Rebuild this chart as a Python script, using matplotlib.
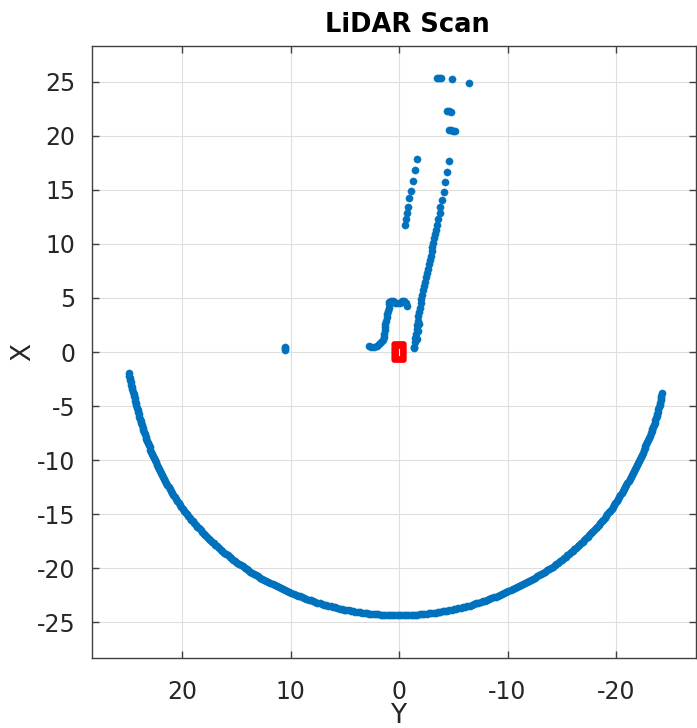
import numpy as np
import matplotlib
matplotlib.use("Agg")
import matplotlib.pyplot as plt
from matplotlib.patches import FancyBboxPatch

plt.rcParams["axes.unicode_minus"] = False

# ---- data ----
# far wall arc: scan starts at 94.5 deg (from +X toward +Y), 0.5 deg steps; ranges in m
arc_start_deg = 94.5
arc_step_deg = 0.5
arc_range = [
    24.98, 24.95, 24.92, 24.90, 24.88, 24.86, 24.84, 24.82, 24.80, 24.78,
    24.76, 24.75, 24.73, 24.72, 24.71, 24.70, 24.69, 24.68, 24.67, 24.67,
    24.66, 24.66, 24.65, 24.65, 24.64, 24.64, 24.64, 24.64, 24.64, 24.63,
    24.63, 24.63, 24.63, 24.63, 24.63, 24.63, 24.63, 24.63, 24.63, 24.63,
    24.63, 24.63, 24.63, 24.63, 24.64, 24.64, 24.64, 24.64, 24.64, 24.64,
    24.64, 24.65, 24.65, 24.65, 24.65, 24.65, 24.65, 24.65, 24.65, 24.65,
    24.65, 24.65, 24.65, 24.65, 24.65, 24.65, 24.65, 24.64, 24.64, 24.64,
    24.64, 24.63, 24.63, 24.63, 24.63, 24.62, 24.62, 24.62, 24.62, 24.61,
    24.61, 24.60, 24.60, 24.60, 24.60, 24.59, 24.59, 24.58, 24.58, 24.57,
    24.57, 24.56, 24.56, 24.55, 24.55, 24.54, 24.54, 24.53, 24.53, 24.52,
    24.52, 24.51, 24.51, 24.50, 24.49, 24.48, 24.48, 24.47, 24.47, 24.46,
    24.46, 24.45, 24.45, 24.44, 24.44, 24.43, 24.43, 24.42, 24.42, 24.41,
    24.41, 24.40, 24.40, 24.39, 24.39, 24.38, 24.38, 24.38, 24.38, 24.37,
    24.37, 24.37, 24.37, 24.36, 24.36, 24.36, 24.36, 24.36, 24.36, 24.35,
    24.35, 24.35, 24.35, 24.35, 24.35, 24.35, 24.35, 24.35, 24.35, 24.35,
    24.35, 24.35, 24.35, 24.35, 24.35, 24.35, 24.35, 24.35, 24.35, 24.35,
    24.35, 24.35, 24.35, 24.35, 24.35, 24.35, 24.35, 24.35, 24.35, 24.35,
    24.35, 24.35, 24.35, 24.35, 24.35, 24.35, 24.35, 24.34, 24.34, 24.34,
    24.34, 24.34, 24.34, 24.34, 24.34, 24.33, 24.33, 24.33, 24.33, 24.33,
    24.33, 24.33, 24.33, 24.33, 24.33, 24.33, 24.33, 24.33, 24.33, 24.33,
    24.33, 24.33, 24.33, 24.32, 24.32, 24.32, 24.32, 24.32, 24.32, 24.32,
    24.32, 24.32, 24.32, 24.32, 24.32, 24.32, 24.32, 24.32, 24.32, 24.32,
    24.32, 24.32, 24.32, 24.33, 24.33, 24.33, 24.33, 24.34, 24.34, 24.34,
    24.34, 24.35, 24.35, 24.35, 24.35, 24.36, 24.36, 24.36, 24.36, 24.37,
    24.37, 24.37, 24.37, 24.38, 24.38, 24.38, 24.38, 24.38, 24.38, 24.38,
    24.38, 24.38, 24.38, 24.38, 24.38, 24.38, 24.38, 24.38, 24.38, 24.38,
    24.38, 24.38, 24.38, 24.38, 24.38, 24.38, 24.38, 24.38, 24.38, 24.38,
    24.38, 24.38, 24.38, 24.38, 24.38, 24.37, 24.37, 24.36, 24.36, 24.35,
    24.35, 24.34, 24.34, 24.33, 24.33, 24.32, 24.32, 24.31, 24.31, 24.30,
    24.30, 24.30, 24.30, 24.29, 24.29, 24.28, 24.28, 24.28, 24.28, 24.28,
    24.28, 24.28, 24.28, 24.29, 24.29, 24.30, 24.30, 24.31, 24.32, 24.33,
    24.34, 24.35, 24.36, 24.37, 24.38, 24.39, 24.40, 24.41, 24.42, 24.43,
    24.44, 24.45, 24.46, 24.47, 24.48, 24.49, 24.49, 24.50, 24.50, 24.51,
    24.51, 24.52, 24.52, 24.53,
]

# near obstacles (Y, X) in metres
near_Y = [
    # left structure
    2.80, 2.55, 2.30, 2.05, 1.85, 1.65, 1.50, 1.42, 1.38, 1.32, 1.28, 1.25,
    1.20, 1.15, 1.08, 1.02, 0.96, 0.92, 0.88, 0.75, 0.55, 0.35, 0.15, -0.05,
    -0.25, -0.45, -0.60, -0.70,
    # right wall, continuous part
    -3.42, -3.34, -3.25, -3.17, -3.08, -3.00, -2.91, -2.83, -2.74, -2.66,
    -2.57, -2.49, -2.40, -2.32, -2.23, -2.15, -2.06, -1.98, -1.89, -1.83,
    -1.78, -1.72, -1.67, -1.62, -1.56, -1.51, -1.45, -1.40, -1.38,
    -1.80, -1.75, -1.68,
    # right wall, sparse part
    -4.56, -4.40, -4.22, -4.10, -3.97, -3.82, -3.73, -3.61, -3.52,
    # inner sparse line
    -1.65, -1.47, -1.28, -1.10, -0.95, -0.83, -0.71, -0.61, -0.52,
    # far clusters
    -3.50, -3.70, -3.90, -4.89, -6.42,
    -4.45, -4.60, -4.78,
    -4.60, -4.80, -5.00, -5.15,
    # isolated object
    10.55, 10.55, 10.55,
]
near_X = [
    0.55, 0.42, 0.45, 0.60, 0.75, 0.95, 1.15, 1.40, 1.70, 2.00, 2.30, 2.60,
    2.90, 3.20, 3.50, 3.80, 4.10, 4.40, 4.65, 4.75, 4.70, 4.55, 4.50, 4.50,
    4.68, 4.75, 4.55, 4.30,
    11.30, 10.90, 10.50, 10.10, 9.70, 9.30, 8.90, 8.50, 8.10, 7.70,
    7.30, 6.90, 6.50, 6.10, 5.70, 5.30, 4.90, 4.50, 4.10, 3.70,
    3.30, 2.90, 2.50, 2.10, 1.70, 1.30, 0.90, 0.50, 0.34,
    2.60, 1.90, 1.20,
    17.66, 16.67, 15.71, 14.84, 14.07, 13.45, 12.84, 12.29, 11.76,
    17.84, 16.85, 15.86, 14.91, 14.20, 13.45, 12.84, 12.29, 11.79,
    25.38, 25.36, 25.33, 25.25, 24.88,
    22.30, 22.25, 22.18,
    20.55, 20.50, 20.45, 20.40,
    0.22, 0.35, 0.48,
]

vehicle_size = (1.3, 1.9)  # width (Y), length (X)

# ---- convert scan to Cartesian ----
rng = np.array(arc_range)
ang = np.deg2rad(arc_start_deg + arc_step_deg * np.arange(len(rng)))
arc_X = rng * np.cos(ang)
arc_Y = rng * np.sin(ang)

all_Y = np.concatenate([arc_Y, np.array(near_Y)])
all_X = np.concatenate([arc_X, np.array(near_X)])

# ---- figure ----
W, H = 697, 728
fig = plt.figure(figsize=(W / 100, H / 100), dpi=100)
ax = fig.add_axes([92 / W, (H - 658) / H, (696 - 92) / W, (658 - 46) / H])

txt = "#262626"
ax.plot(all_Y, all_X, linestyle="none", marker="o", ms=5.2,
        color="#0072BD", mec="#0072BD", mew=0.3, zorder=3)

vw, vh = vehicle_size
veh = FancyBboxPatch((-vw / 2, -vh / 2), vw, vh,
                     boxstyle="round,pad=0,rounding_size=0.22",
                     fc="#FF0000", ec="#FF0000", lw=0.8, zorder=4)
ax.add_patch(veh)
ax.plot([0, 0], [-0.25, 0.25], color="white", lw=0.8, zorder=5)

ax.set_xlim(28.3, -27.37)
ax.set_ylim(-28.3, 28.3)
ax.set_xticks([20, 10, 0, -10, -20])
ax.set_yticks(list(range(-25, 26, 5)))

ax.grid(True, color="#dedede", linewidth=0.8, zorder=0)
ax.set_axisbelow(True)
for s in ax.spines.values():
    s.set_color("#404040")
    s.set_linewidth(1.0)
ax.tick_params(direction="in", length=5, width=1.0, colors="#404040",
               labelcolor=txt, labelsize=17, top=True, right=True)
ax.tick_params(axis="x", pad=16)
ax.tick_params(axis="y", pad=12)

fig.text(407 / W, 1 - 25 / H, "LiDAR Scan", ha="center", va="center",
         fontsize=18.5, fontweight="bold", color="black")
fig.text(398 / W, 1 - 716 / H, "Y", ha="center", va="center",
         fontsize=19, color=txt)
fig.text(23 / W, 1 - 352 / H, "X", ha="center", va="center",
         fontsize=19, color=txt, rotation=90)

fig.savefig("out.png", dpi=100)
